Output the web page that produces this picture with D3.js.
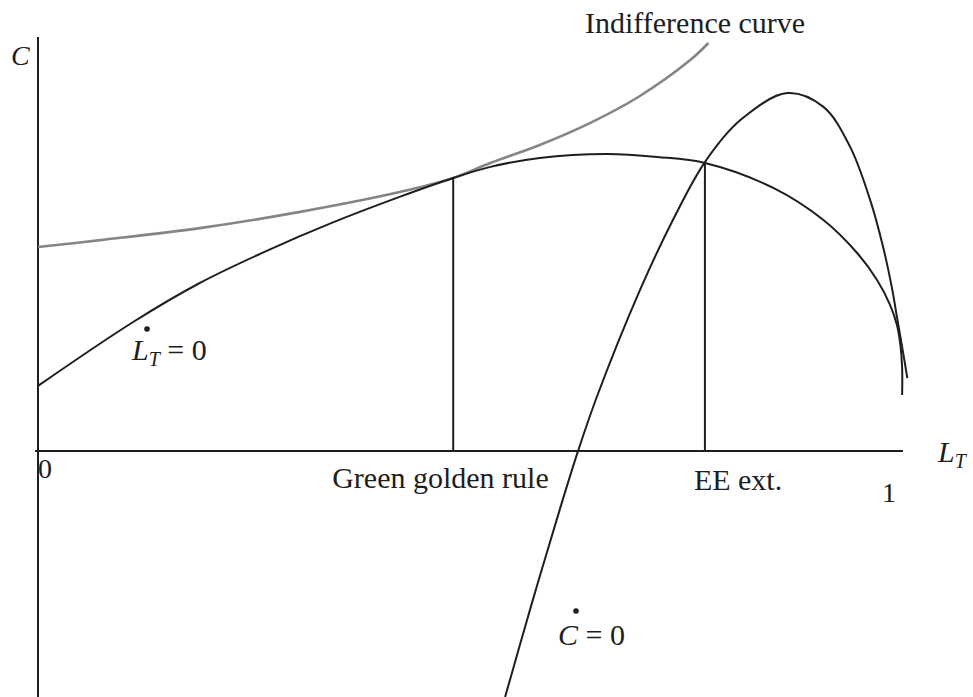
<!DOCTYPE html>
<html>
<head>
<meta charset="utf-8">
<script src="https://cdn.jsdelivr.net/npm/d3@7"></script>
<style>
  html, body { margin: 0; padding: 0; background: #fff; }
  svg { display: block; }
  text { font-family: "Liberation Serif", "DejaVu Serif", serif; fill: #1e1e1e; }
</style>
</head>
<body>
<div id="chart"></div>
<script>
// ---- Data (L_T share on x, consumption C on y) ----
const ltDotZeroL = [0, 0.110, 0.187, 0.265, 0.341, 0.418, 0.480, 0.523, 0.580, 0.658, 0.716, 0.771, 0.850, 0.908, 0.947, 0.970, 0.985, 0.993, 0.997, 0.999, 0.999];
const ltDotZeroC = [0.217, 0.430, 0.560, 0.668, 0.762, 0.847, 0.910, 0.947, 0.977, 0.990, 0.980, 0.960, 0.877, 0.770, 0.660, 0.570, 0.487, 0.420, 0.353, 0.277, 0.187];

const cDotZeroL = [0.540, 0.572, 0.603, 0.624, 0.646, 0.696, 0.734, 0.771, 0.812, 0.866, 0.908, 0.939, 0.962, 0.977, 0.987, 0.993, 0.999, 1.005];
const cDotZeroC = [-0.820, -0.497, -0.197, -0.003, 0.180, 0.537, 0.770, 0.963, 1.103, 1.193, 1.147, 1.013, 0.837, 0.680, 0.547, 0.447, 0.347, 0.243];

const indiffL = [0, 0.072, 0.187, 0.303, 0.418, 0.480, 0.523, 0.580, 0.638, 0.694, 0.754, 0.775];
const indiffC = [0.680, 0.703, 0.743, 0.797, 0.863, 0.910, 0.960, 1.020, 1.093, 1.180, 1.303, 1.360];

const markerNames = ["Green golden rule", "EE ext."];
const markerL = [0.480, 0.771];
const markerC = [0.910, 0.960];

const tickValues = [0, 1];
const tickLabels = ["0", "1"];

// ---- Layout ----
const W = 973, H = 697;
const svg = d3.select("#chart").append("svg").attr("width", W).attr("height", H);

const x = d3.scaleLinear().domain([0, 1]).range([38, 903]);
const y = d3.scaleLinear().domain([0, 1]).range([451, 151]);

const zip = (a, b) => a.map((v, i) => [v, b[i]]);
const line = d3.line().x(d => x(d[0])).y(d => y(d[1])).curve(d3.curveCatmullRom.alpha(0.5));

// axes
svg.append("line")
  .attr("x1", x(0)).attr("x2", x(0))
  .attr("y1", y(1.38)).attr("y2", y(-0.82))
  .attr("stroke", "#1e1e1e").attr("stroke-width", 2);
svg.append("line")
  .attr("x1", x(0) - 3).attr("x2", x(1))
  .attr("y1", y(0)).attr("y2", y(0))
  .attr("stroke", "#1e1e1e").attr("stroke-width", 2);

// indifference curve (grey)
svg.append("path")
  .datum(zip(indiffL, indiffC))
  .attr("d", line)
  .attr("fill", "none")
  .attr("stroke", "#858585")
  .attr("stroke-width", 2.6);

// L_T dot = 0 curve
svg.append("path")
  .datum(zip(ltDotZeroL, ltDotZeroC))
  .attr("d", line)
  .attr("fill", "none")
  .attr("stroke", "#1e1e1e")
  .attr("stroke-width", 2);

// C dot = 0 curve
svg.append("path")
  .datum(zip(cDotZeroL, cDotZeroC))
  .attr("d", line)
  .attr("fill", "none")
  .attr("stroke", "#1e1e1e")
  .attr("stroke-width", 2);

// vertical marker lines
markerL.forEach((l, i) => {
  svg.append("line")
    .attr("x1", x(l)).attr("x2", x(l))
    .attr("y1", y(markerC[i])).attr("y2", y(0))
    .attr("stroke", "#1e1e1e").attr("stroke-width", 2);
});

// marker labels
svg.append("text").attr("x", x(markerL[0]) - 121).attr("y", 488)
  .attr("font-size", 30).text(markerNames[0]);
svg.append("text").attr("x", x(markerL[1]) - 11).attr("y", 490)
  .attr("font-size", 30).text(markerNames[1]);

// tick labels
svg.append("text").attr("x", x(tickValues[0])).attr("y", 478)
  .attr("font-size", 28).text(tickLabels[0]);
svg.append("text").attr("x", x(tickValues[1]) - 14).attr("y", 502)
  .attr("text-anchor", "middle").attr("font-size", 28).text(tickLabels[1]);

// axis titles
svg.append("text").attr("x", 11).attr("y", 65)
  .attr("font-size", 28).attr("font-style", "italic").text("C");
const lt = svg.append("text").attr("x", 938).attr("y", 462).attr("font-size", 30).attr("font-style", "italic");
lt.append("tspan").text("L");
lt.append("tspan").attr("font-size", 20).attr("dy", 6).text("T");

// indifference label
svg.append("text").attr("x", 585).attr("y", 33).attr("font-size", 30).text("Indifference curve");

// L_T dot = 0 label
const l1 = svg.append("text").attr("x", 132).attr("y", 360).attr("font-size", 30);
l1.append("tspan").attr("font-style", "italic").text("L");
l1.append("tspan").attr("font-style", "italic").attr("font-size", 20).attr("dy", 6).text("T");
l1.append("tspan").attr("dy", -6).text(" = 0");
svg.append("circle").attr("cx", 147).attr("cy", 329).attr("r", 2.8).attr("fill", "#1e1e1e");

// C dot = 0 label
const l2 = svg.append("text").attr("x", 558).attr("y", 645).attr("font-size", 30);
l2.append("tspan").attr("font-style", "italic").text("C");
l2.append("tspan").text(" = 0");
svg.append("circle").attr("cx", 576).attr("cy", 611).attr("r", 2.8).attr("fill", "#1e1e1e");
</script>
</body>
</html>
